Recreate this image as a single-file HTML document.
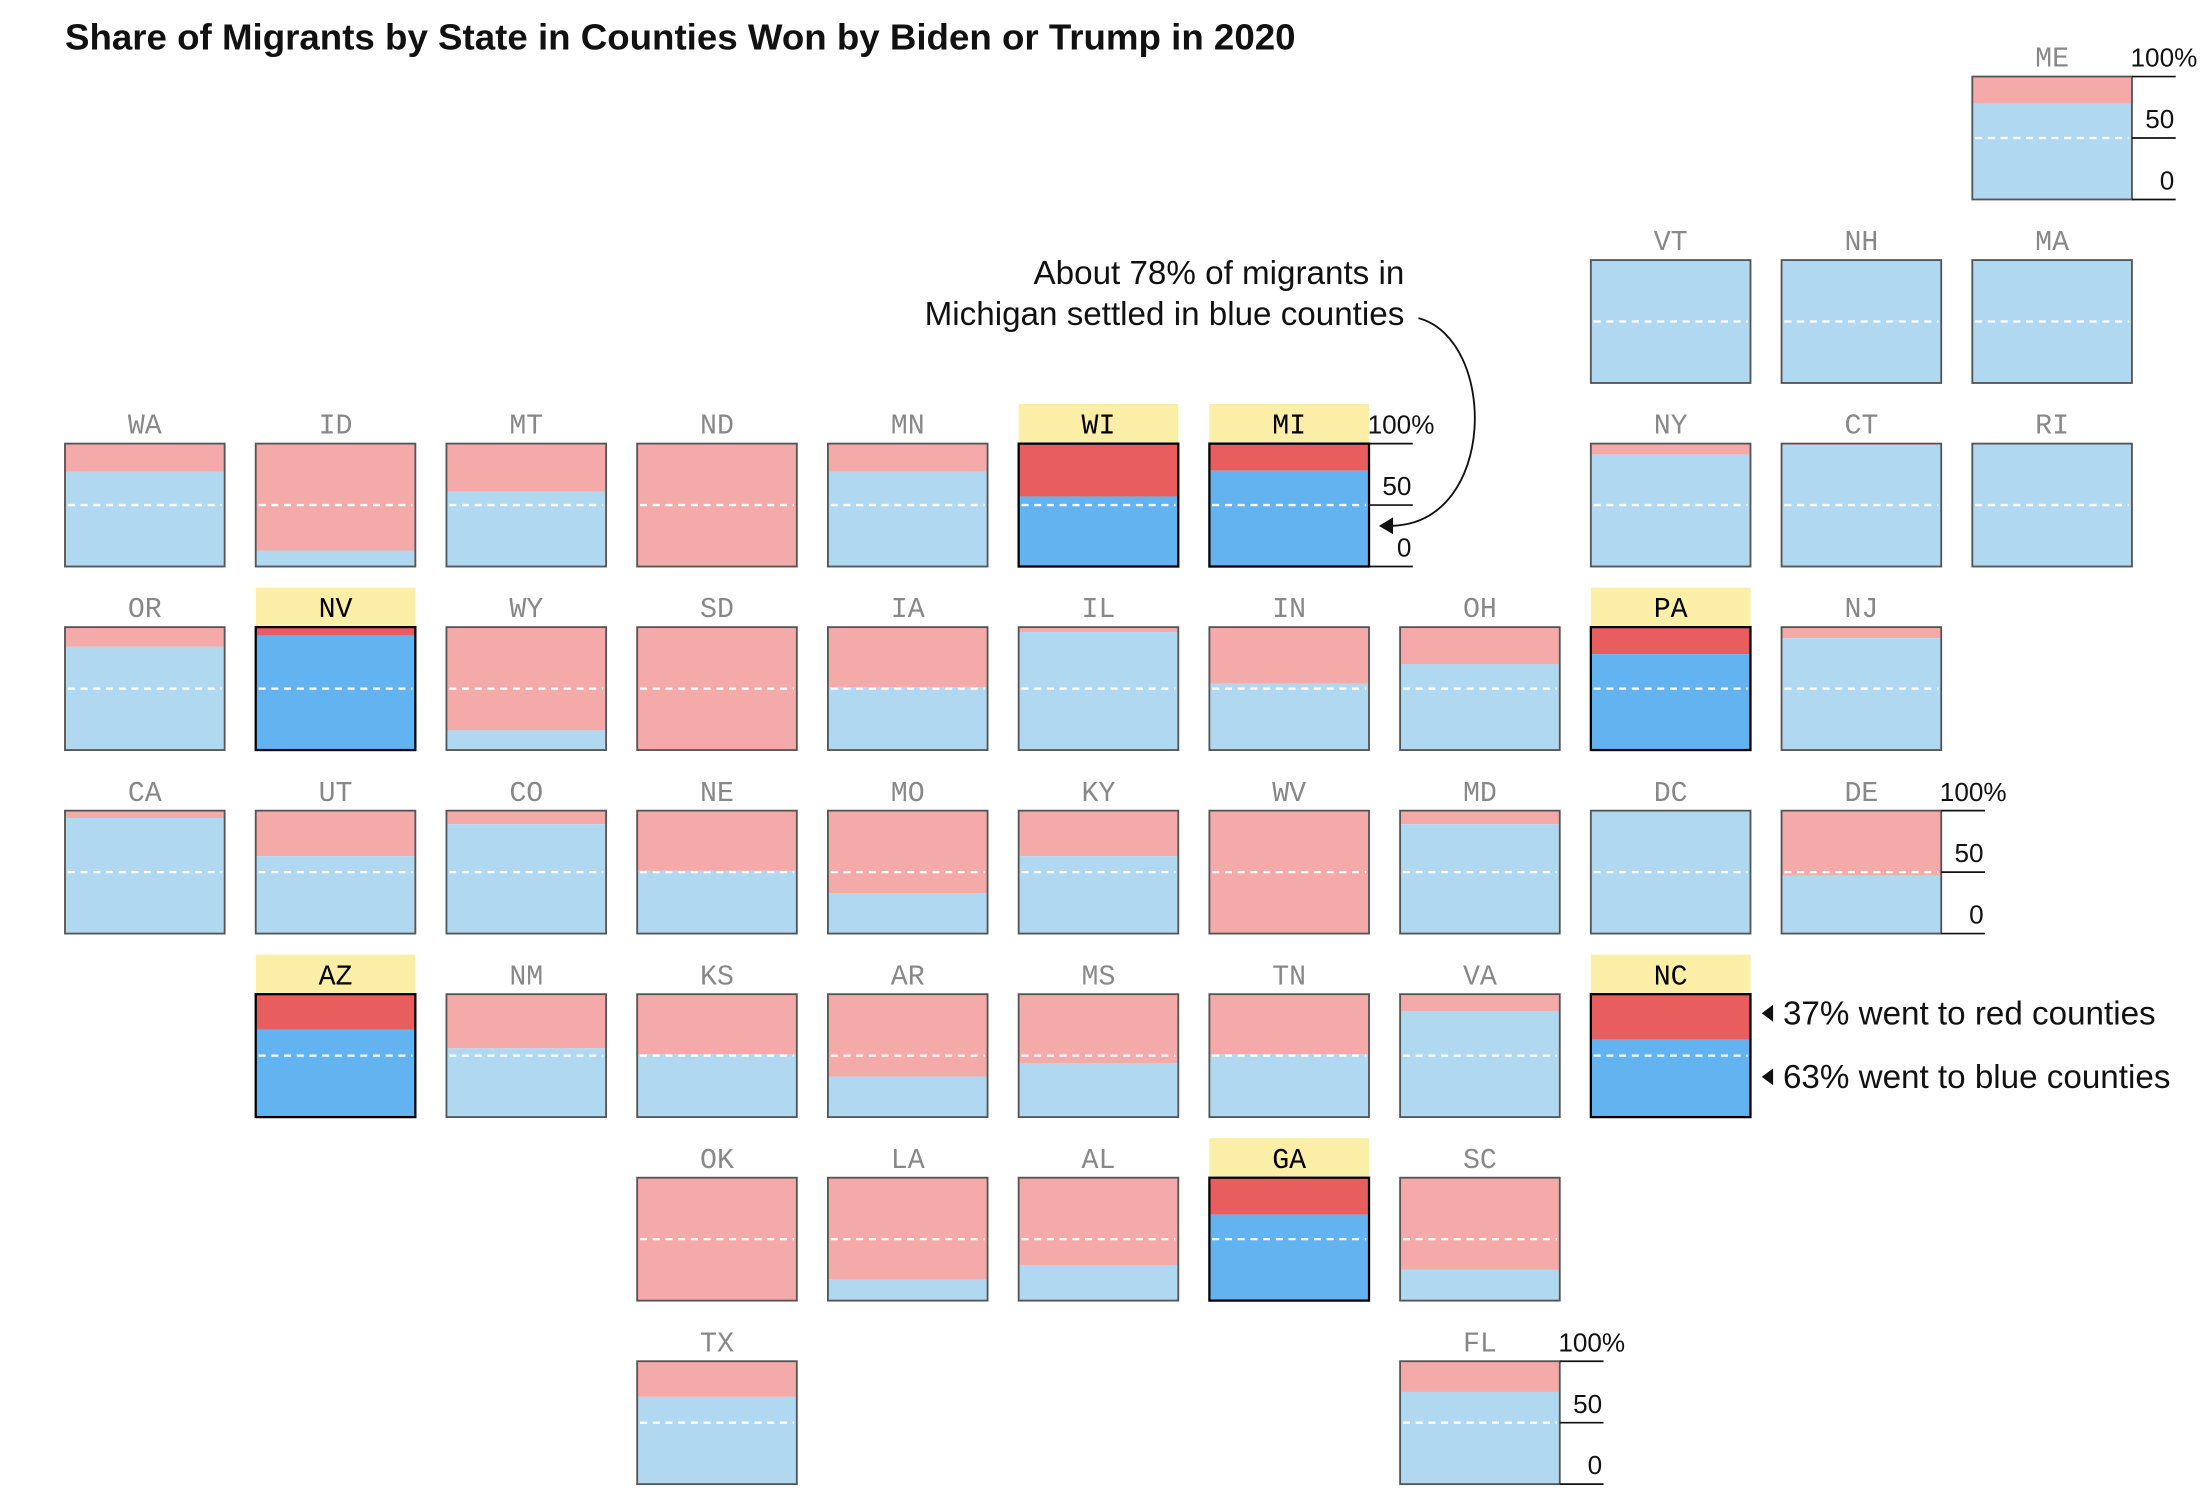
<!DOCTYPE html>
<html><head><meta charset="utf-8"><style>
html,body{margin:0;padding:0;background:#fff;}
svg{display:block;}
</style></head><body>
<svg id="chart" width="2204" height="1508" viewBox="0 0 1560 1067" xmlns="http://www.w3.org/2000/svg" font-family="Liberation Sans, sans-serif">
<text x="46" y="35" font-size="25.8" font-weight="bold" fill="#111" textLength="871" lengthAdjust="spacingAndGlyphs">Share of Migrants by State in Counties Won by Biden or Trump in 2020</text>
<g id="tiles"></g>
<g>
<text x="994" y="201" font-size="23.5" text-anchor="end" fill="#111">About 78% of migrants in</text>
<text x="994" y="230" font-size="23.5" text-anchor="end" fill="#111">Michigan settled in blue counties</text>
<path d="M1004,225 C1060,240 1060,370 985,372" fill="none" stroke="#111" stroke-width="1.3"/>
<polygon points="976,372 986,366 986,378" fill="#111"/>
</g>
<g>
<polygon points="1247,717 1255,711 1255,723" fill="#111"/>
<text x="1262" y="725" font-size="23.5" fill="#111">37% went to red counties</text>
<polygon points="1247,762 1255,756 1255,768" fill="#111"/>
<text x="1262" y="770" font-size="23.5" fill="#111">63% went to blue counties</text>
</g>
</svg>
<script>
const states = ["ME","VT","NH","MA","WA","ID","MT","ND","MN","WI","MI","NY","CT","RI","OR","NV","WY","SD","IA","IL","IN","OH","PA","NJ","CA","UT","CO","NE","MO","KY","WV","MD","DC","DE","AZ","NM","KS","AR","MS","TN","VA","NC","OK","LA","AL","GA","SC","TX","FL"];
const gridCol = [10,8,9,10,0,1,2,3,4,5,6,8,9,10,0,1,2,3,4,5,6,7,8,9,0,1,2,3,4,5,6,7,8,9,1,2,3,4,5,6,7,8,3,4,5,6,7,3,7];
const gridRow = [0,1,1,1,2,2,2,2,2,2,2,2,2,2,3,3,3,3,3,3,3,3,3,3,4,4,4,4,4,4,4,4,4,4,5,5,5,5,5,5,5,5,6,6,6,6,6,7,7];
const blueShare = [78,100,99.5,100,77,13,61,0,77,57,78,91,99,100,84,93,16,0,51,96,54,70,78,91,94,63,89,51,33,63,0,89,100,47,71,56,51,33,44,51,86,63,0,17,29,70,25,71,75];
const highlighted = ["WI","MI","NV","PA","AZ","NC","GA"];
const withAxis = ["ME","MI","DE","FL"];
const tickValues = [0,50,100];
const tickLabels = ["0","50","100%"];

const X0=46, PX=135, Y0=54, PY=129.9, W=113, H=87;
const xPos = c => X0 + c*PX;
const yPos = r => Y0 + r*PY;
const yVal = (top,v) => top + H*(1 - v/100);
const NS="http://www.w3.org/2000/svg";
const g=document.getElementById('tiles');
function mk(tag,attrs,parent){const e=document.createElementNS(NS,tag);for(const k in attrs)e.setAttribute(k,attrs[k]);parent.appendChild(e);return e;}

states.forEach((s,i)=>{
  const x=xPos(gridCol[i]), y=yPos(gridRow[i]);
  const hi=highlighted.includes(s);
  const tile=mk('g',{},g);
  
  
  if(hi){
    const bg=mk('rect',{x:x,y:y-28,width:W,height:27,fill:'#fbeea6'},tile);
    
    
  }
  const lab=mk('text',{x:x+W/2,y:y-7,'text-anchor':'middle','font-size':20,'font-family':'Liberation Mono, monospace',fill:hi?'#000':'#888'},tile);
  lab.textContent=s;
  
  
  const by=yVal(y,blueShare[i]);
  const red=mk('rect',{x:x,y:y,width:W,height:by-y,fill:hi?'#e85d5d':'#f4aaa8'},tile);
  
  
  const blue=mk('rect',{x:x,y:by,width:W,height:y+H-by,fill:hi?'#63b3f0':'#b1d8f1'},tile);
  
  
  const d=mk('line',{x1:x+2,x2:x+W-2,y1:yVal(y,50),y2:yVal(y,50),stroke:'#fff','stroke-width':1.6,'stroke-dasharray':'5 4'},tile);
  
  
  const b=mk('rect',{x:x,y:y,width:W,height:H,fill:'none',stroke:hi?'#000':'#555','stroke-width':hi?1.6:1.3},tile);
  
  
  if(withAxis.includes(s)){
    tickValues.forEach((v,j)=>{
      const ty=yVal(y,v);
      const tl=mk('line',{x1:x+W,x2:x+W+31,y1:ty,y2:ty,stroke:'#111','stroke-width':1.2},tile);
      
      
      const tt=mk('text',{x:x+W+30,y:ty-7,'text-anchor':'end','font-size':18.5,fill:'#111'},tile);
      if(v===100){tt.setAttribute('text-anchor','start');tt.setAttribute('x',x+W-1);}
      tt.textContent=tickLabels[j];
      
      
    });
  }
});
</script>
</body></html>
